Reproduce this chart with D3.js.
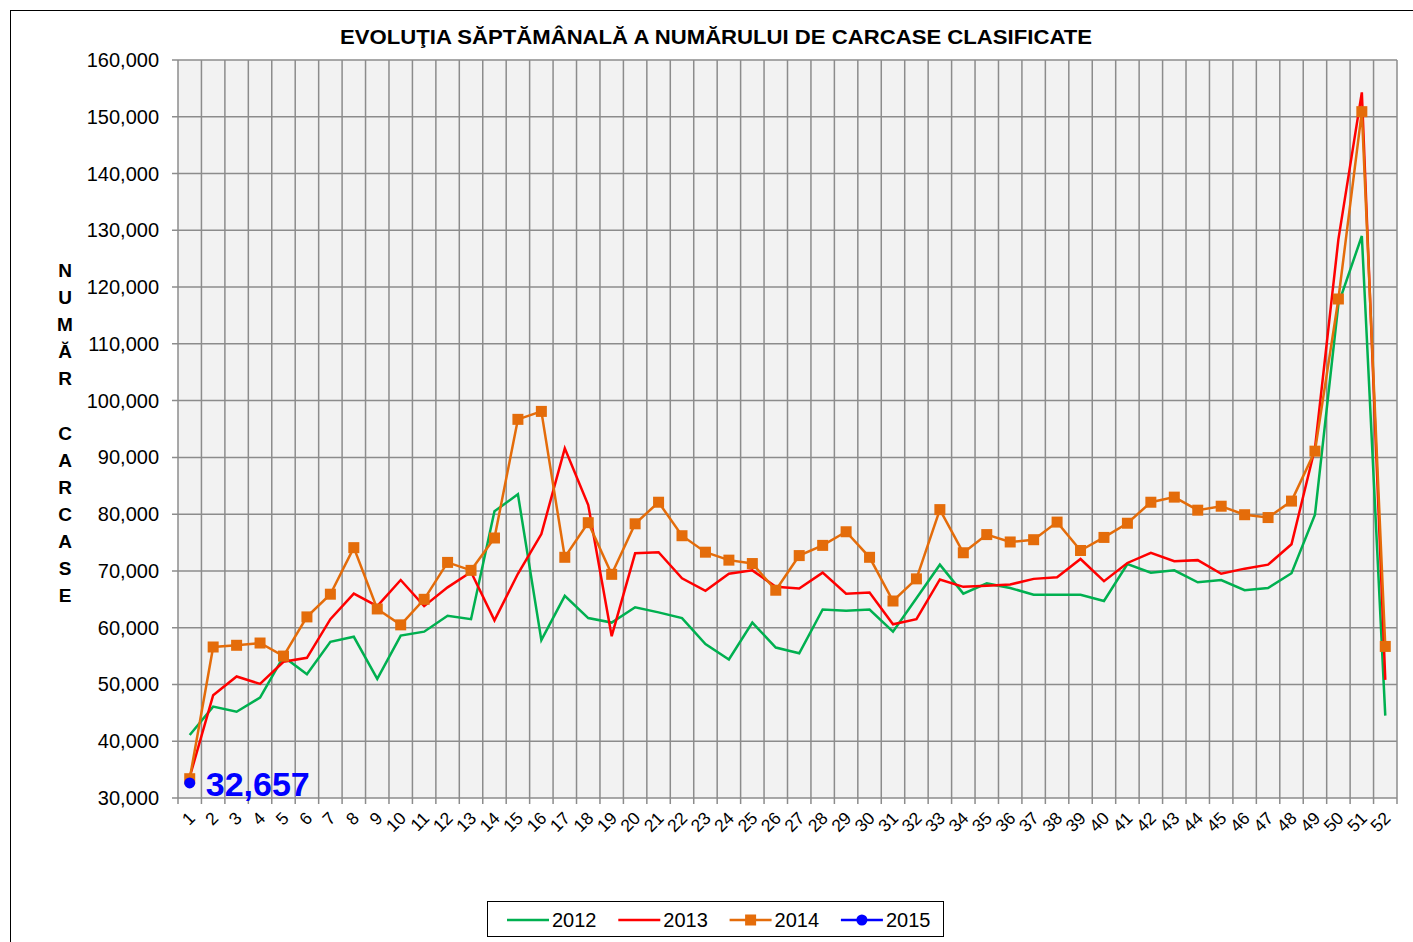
<!DOCTYPE html>
<html><head><meta charset="utf-8">
<script src="https://cdn.jsdelivr.net/npm/d3@7"></script>
<style>
html,body{margin:0;padding:0;background:#fff;}
text{font-family:"Liberation Sans",Arial,sans-serif;}
</style></head>
<body>
<svg id="chart" width="1413" height="942"></svg>
<script>
const weeks = d3.range(1, 53);
const s2012 = [41100,46100,45200,47700,54900,51800,57500,58400,51000,58600,59300,62100,61500,80500,83500,57800,65600,61700,60900,63600,
  62700,61700,57100,54400,60900,56500,55500,63200,63000,63200,59300,65200,71100,66000,67800,67000,65800,65800,65800,64700,
  71200,69700,70100,68000,68400,66600,67000,69600,79900,117000,129000,44500];
const s2013 = [33700,48100,51400,50100,54000,54700,61500,66000,63800,68400,63800,67100,69800,61300,69500,76500,91600,81600,58500,73100,
  73300,68700,66500,69500,70100,67200,66900,69700,66000,66200,60600,61500,68500,67200,67400,67600,68600,68900,72100,68200,
  71400,73200,71700,71900,69500,70400,71100,74700,91600,128400,154300,50800];
const s2014 = [33400,56600,56900,57300,55000,61900,65900,74100,63300,60500,65000,71500,70100,75800,96700,98100,72400,78500,69400,78300,
  82100,76200,73300,71900,71300,66600,72700,74500,76900,72400,64700,68600,80800,73200,76400,75100,75500,78600,73600,75900,
  78400,82100,83000,80700,81400,79900,79400,82300,91100,117900,150900,56700];
const s2015 = [32657];
const yTicks = d3.range(30000, 160001, 10000);
const yearNames = ["2012","2013","2014","2015"];
const colors = ["#00b050","#ff0000","#e46c0a","#0000ff"];
const titleText = "EVOLUŢIA SĂPTĂMÂNALĂ A NUMĂRULUI DE CARCASE  CLASIFICATE";
const yLabelText = "NUMĂR CARCASE";

const svg = d3.select("#chart");
const L = 178, R = 1397, T = 60, B = 798;
const x = d3.scaleBand().domain(weeks).range([L, R]).padding(0);
const y = d3.scaleLinear().domain([30000, 160000]).range([B, T]);
const cx = w => x(w) + x.bandwidth() / 2;

// outer border
svg.append("rect").attr("x", 10.5).attr("y", 10.5).attr("width", 1410).attr("height", 940)
  .attr("fill", "none").attr("stroke", "#000").attr("stroke-width", 1);

// plot bg
svg.append("rect").attr("x", L).attr("y", T).attr("width", R - L).attr("height", B - T).attr("fill", "#f2f2f2");

// horizontal grid
svg.append("g").selectAll("line").data(yTicks).join("line")
  .attr("x1", L - 6).attr("x2", R).attr("y1", d => y(d)).attr("y2", d => y(d))
  .attr("stroke", "#8c8c8c").attr("stroke-width", 1.5);
// vertical grid
const bounds = weeks.map(w => x(w)).concat([R]);
svg.append("g").selectAll("line").data(bounds).join("line")
  .attr("x1", d => d).attr("x2", d => d).attr("y1", T).attr("y2", B + 6)
  .attr("stroke", "#8c8c8c").attr("stroke-width", 1.5);

// y tick labels
svg.append("g").selectAll("text").data(yTicks).join("text")
  .attr("x", 159).attr("y", d => y(d)).attr("dy", "0.35em")
  .attr("text-anchor", "end").attr("font-size", 20).attr("fill", "#000")
  .text(d => d3.format(",")(d));

// x tick labels
svg.append("g").selectAll("text").data(weeks).join("text")
  .attr("transform", d => `translate(${cx(d) + 2},${B + 17}) rotate(-45)`)
  .attr("text-anchor", "end").attr("dy", "0.35em").attr("font-size", 17.5).attr("fill", "#000")
  .text(d => d);

// title
svg.append("text").attr("x", 716).attr("y", 44).attr("text-anchor", "middle")
  .attr("font-size", 20).attr("font-weight", "bold")
  .attr("textLength", 752).attr("lengthAdjust", "spacingAndGlyphs")
  .text(titleText);

// y axis label stacked
const chars = Array.from(yLabelText);
svg.append("g").selectAll("text").data(chars).join("text")
  .attr("x", 65).attr("y", (d, i) => 277 + i * 27.1)
  .attr("text-anchor", "middle").attr("font-size", 19).attr("font-weight", "bold")
  .text(d => d);

const line = d3.line().x((d, i) => cx(weeks[i])).y(d => y(d));
const series = [s2012, s2013, s2014, s2015];
series.forEach((s, k) => {
  svg.append("path").datum(s).attr("d", line).attr("fill", "none")
    .attr("stroke", colors[k]).attr("stroke-width", 2.5).attr("stroke-linejoin", "miter");
});
// 2014 squares
svg.append("g").selectAll("rect").data(s2014).join("rect")
  .attr("x", (d, i) => cx(weeks[i]) - 5.5).attr("y", d => y(d) - 5.5)
  .attr("width", 11).attr("height", 11).attr("fill", colors[2]);
// 2015 circle
svg.append("g").selectAll("circle").data(s2015).join("circle")
  .attr("cx", (d, i) => cx(weeks[i])).attr("cy", d => y(d)).attr("r", 5.5).attr("fill", colors[3]);
svg.append("text").attr("x", cx(1) + 16).attr("y", y(s2015[0]) + 13)
  .attr("font-size", 34).attr("font-weight", "bold").attr("fill", colors[3])
  .text(d3.format(",")(s2015[0]));

// legend
const lg = svg.append("g");
lg.append("rect").attr("x", 487.5).attr("y", 901.5).attr("width", 456).attr("height", 35)
  .attr("fill", "#fff").attr("stroke", "#000").attr("stroke-width", 1);
yearNames.forEach((n, k) => {
  const x0 = 507 + k * 111.3;
  lg.append("line").attr("x1", x0).attr("x2", x0 + 42).attr("y1", 920).attr("y2", 920)
    .attr("stroke", colors[k]).attr("stroke-width", 2.5);
  if (k === 2) lg.append("rect").attr("x", x0 + 21 - 5.5).attr("y", 920 - 5.5).attr("width", 11).attr("height", 11).attr("fill", colors[k]);
  if (k === 3) lg.append("circle").attr("cx", x0 + 21).attr("cy", 920).attr("r", 5.5).attr("fill", colors[k]);
  lg.append("text").attr("x", x0 + 45).attr("y", 920).attr("dy", "0.36em").attr("font-size", 20).text(n);
});
</script>
</body></html>
